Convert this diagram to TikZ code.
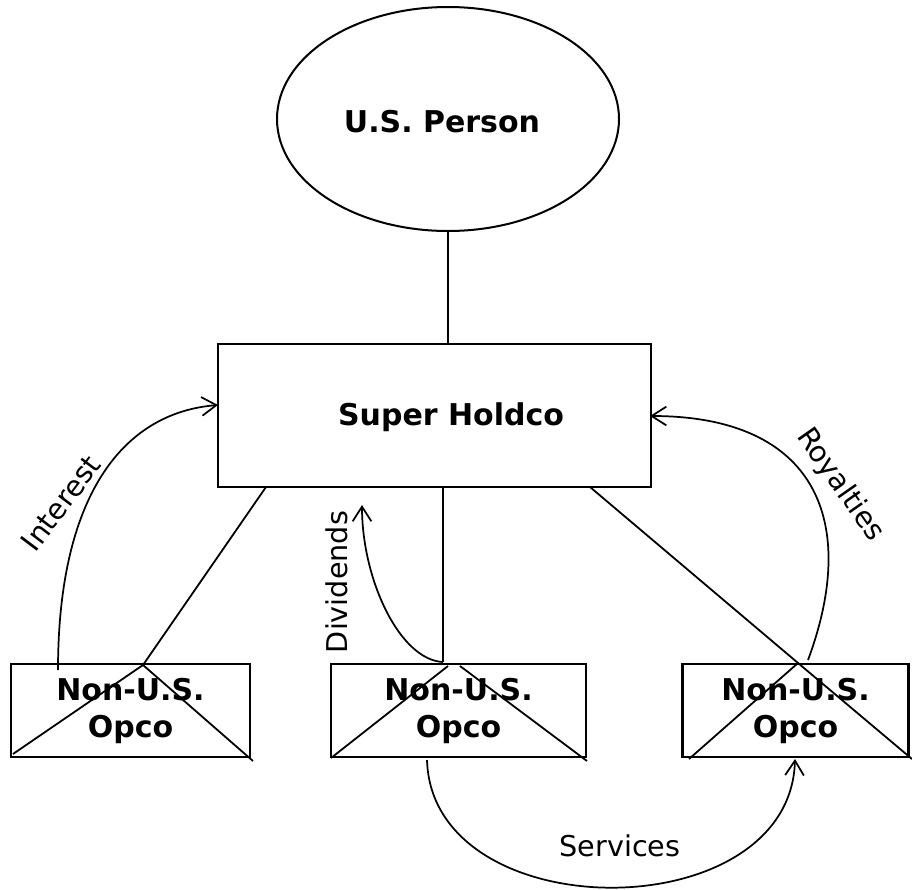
\documentclass[tikz,border=0pt]{standalone}
\usepackage{fontspec}
\setmainfont{DejaVu Sans}
\usetikzlibrary{shapes.geometric,arrows.meta}
\begin{document}
\begin{tikzpicture}[x=0.75pt,y=-0.75pt,
  boxline/.style={line width=1.9pt},
  thinline/.style={line width=1.35pt},
  flow/.style={line width=1.3pt,-{Straight Barb[length=11pt,width=14pt,line width=1.3pt]}},
  bigtext/.style={font=\fontsize{22.5}{27.75}\selectfont\bfseries,align=center,inner sep=0pt},
  lbl/.style={font=\fontsize{21.5}{26}\selectfont,inner sep=0pt},
  opcobox/.style={draw,boxline,rectangle,minimum height=69.75pt,inner sep=0pt}]
\useasboundingbox (0,0) rectangle (912,889);
\node[draw,ellipse,line width=1.5pt,minimum width=256.5pt,minimum height=168pt,inner sep=0pt] (usp) at (448,119) {};
\node[bigtext] (usptxt) at (442,122) {U.S. Person};
\node[opcobox,minimum width=324.75pt,minimum height=107.25pt] (shc) at (434.5,415.5) {};
\node[bigtext] (shctxt) at (451,417) {Super Holdco};
\node[opcobox,minimum width=179.25pt] (o1) at (130.5,710.5) {};
\node[opcobox,minimum width=191.25pt] (o2) at (458.5,710.5) {};
\node[opcobox,minimum width=169.5pt] (o3) at (795.5,710.5) {};
\node[bigtext] (o1t) at (130.5,710.5) {Non-U.S.\\Opco};
\node[bigtext] (o2t) at (458.5,710.5) {Non-U.S.\\Opco};
\node[bigtext] (o3t) at (795.5,710.5) {Non-U.S.\\Opco};
% crosses
\coordinate (o1a) at (13,754); \coordinate (o1p) at (143,665); \coordinate (o1b) at (253,761);
\coordinate (o2a) at (331,758); \coordinate (o2p) at (448,666); \coordinate (o2q) at (460,666); \coordinate (o2b) at (587,761);
\coordinate (o3a) at (689,759); \coordinate (o3p) at (798,663); \coordinate (o3b) at (912,759);
\draw[thinline] (o1a) -- (o1p) -- (o1b);
\draw[thinline] (o2a) -- (o2p);
\draw[thinline] (o2q) -- (o2b);
\draw[thinline] (o3a) -- (o3p) -- (o3b);
% ownership lines
\draw[thinline] (usp.south) -- (usp.south |- shc.north);
\coordinate (s1) at (266,487);
\coordinate (s2) at (443,487);
\coordinate (s3) at (590,487);
\coordinate (m2) at (443,662);
\draw[thinline] (s1) -- (o1p);
\draw[thinline] (s2) -- (m2);
\draw[thinline] (s3) -- (o3p);
% flows
\coordinate (i0) at (58,670); \coordinate (i1) at (218,405);
\draw[flow] (i0) .. controls (58,500) and (120,413) .. (i1);
\node[lbl,rotate=53] (interest) at (61,503) {Interest};
\coordinate (d1) at (362,505);
\draw[flow] (m2) .. controls (400,660) and (362,580) .. (d1);
\node[lbl,rotate=90] (div) at (337,582) {Dividends};
\coordinate (r0) at (808,660); \coordinate (r1) at (650,416);
\draw[flow] (r0) .. controls (860,520) and (815,416) .. (r1);
\node[lbl,rotate=-55] (roy) at (840,485) {Royalties};
\coordinate (v0) at (427,760); \coordinate (v1) at (795,759);
\draw[flow] (v0) .. controls (432,930) and (790,930) .. (v1);
\node[lbl] (serv) at (620,846) {Services};
\end{tikzpicture}
\end{document}
